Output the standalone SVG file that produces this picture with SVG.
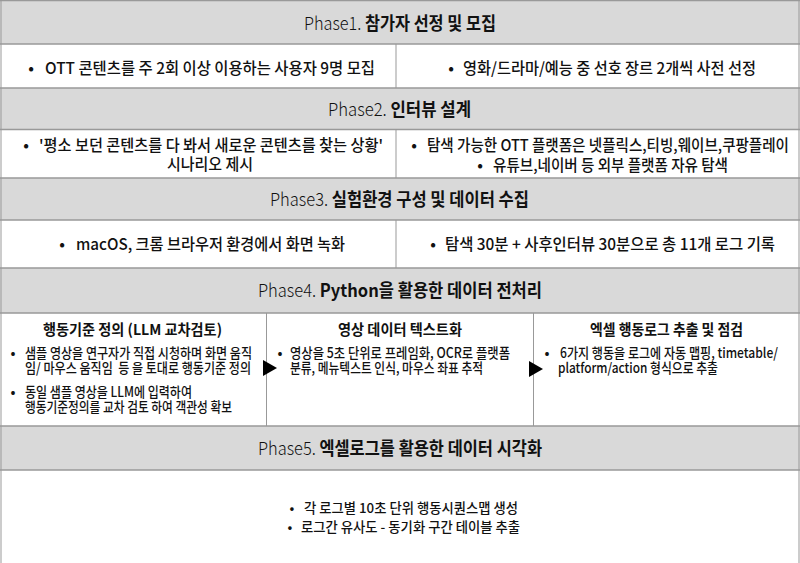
<svg xmlns="http://www.w3.org/2000/svg" width="800" height="563" viewBox="0 0 800 563">
<style>
text{font-family:"Noto Sans CJK KR","Noto Sans",sans-serif;fill:#111;}
.hd{fill:#d9d9d9;}
.cell{fill:#ffffff;}
.rule{stroke:#999;stroke-width:1.3;fill:none;}
.div{stroke:#999;stroke-width:1;fill:none;}
.h{font-size:18px;}
.lt{font-weight:300;}
.b{font-weight:700;}
.t{font-size:16px;font-weight:500;}
.s{font-size:14px;font-weight:500;}
.st{font-size:15px;font-weight:700;}
.v{font-size:13.5px;font-weight:500;}
.arrow{fill:#000;}
</style>
<rect x="0" y="0" width="800" height="563" fill="#fff"/>

<g id="phase1-header">
<rect class="hd" x="0" y="0" width="800" height="44"/>
<text class="h" x="304" y="29.5" textLength="192" lengthAdjust="spacingAndGlyphs"><tspan class="lt">Phase1. </tspan><tspan class="b">참가자 선정 및 모집</tspan></text>
</g>
<g id="phase1-left">
<rect class="cell" x="0" y="44" width="396" height="44"/>
<text class="t" x="31" y="74" text-anchor="middle">•</text>
<text class="t" x="45" y="74" textLength="330" lengthAdjust="spacingAndGlyphs">OTT 콘텐츠를 주 2회 이상 이용하는 사용자 9명 모집</text>
</g>
<g id="phase1-right">
<rect class="cell" x="396" y="44" width="404" height="44"/>
<text class="t" x="451" y="74" text-anchor="middle">•</text>
<text class="t" x="463" y="74" textLength="293" lengthAdjust="spacingAndGlyphs">영화/드라마/예능 중 선호 장르 2개씩 사전 선정</text>
</g>

<g id="phase2-header">
<rect class="hd" x="0" y="88" width="800" height="41"/>
<text class="h" x="328" y="116" textLength="143" lengthAdjust="spacingAndGlyphs"><tspan class="lt">Phase2. </tspan><tspan class="b">인터뷰 설계</tspan></text>
</g>
<g id="phase2-left">
<rect class="cell" x="0" y="129" width="396" height="49"/>
<text class="t" x="26" y="151" text-anchor="middle">•</text>
<text class="t" x="39" y="151" textLength="344" lengthAdjust="spacingAndGlyphs">'평소 보던 콘텐츠를 다 봐서 새로운 콘텐츠를 찾는 상황'</text>
<text class="t" x="167" y="169.5" textLength="86" lengthAdjust="spacingAndGlyphs">시나리오 제시</text>
</g>
<g id="phase2-right">
<rect class="cell" x="396" y="129" width="404" height="49"/>
<text class="t" x="414" y="151" text-anchor="middle">•</text>
<text class="t" x="427" y="151" textLength="362" lengthAdjust="spacingAndGlyphs">탐색 가능한 OTT 플랫폼은 넷플릭스,티빙,웨이브,쿠팡플레이</text>
<text class="t" x="480" y="171" text-anchor="middle">•</text>
<text class="t" x="493" y="171" textLength="235" lengthAdjust="spacingAndGlyphs">유튜브,네이버 등 외부 플랫폼 자유 탐색</text>
</g>

<g id="phase3-header">
<rect class="hd" x="0" y="178" width="800" height="42"/>
<text class="h" x="270" y="206" textLength="259" lengthAdjust="spacingAndGlyphs"><tspan class="lt">Phase3. </tspan><tspan class="b">실험환경 구성 및 데이터 수집</tspan></text>
</g>
<g id="phase3-left">
<rect class="cell" x="0" y="220" width="396" height="48"/>
<text class="t" x="62" y="250" text-anchor="middle">•</text>
<text class="t" x="76" y="250" textLength="269" lengthAdjust="spacingAndGlyphs">macOS, 크롬 브라우저 환경에서 화면 녹화</text>
</g>
<g id="phase3-right">
<rect class="cell" x="396" y="220" width="404" height="48"/>
<text class="t" x="433" y="250" text-anchor="middle">•</text>
<text class="t" x="445" y="250" textLength="330" lengthAdjust="spacingAndGlyphs">탐색 30분 + 사후인터뷰 30분으로 총 11개 로그 기록</text>
</g>

<g id="phase4-header">
<rect class="hd" x="0" y="268" width="800" height="45"/>
<text class="h" x="258" y="297" textLength="284" lengthAdjust="spacingAndGlyphs"><tspan class="lt">Phase4. </tspan><tspan class="b">Python을 활용한 데이터 전처리</tspan></text>
</g>
<g id="phase4-behavior">
<rect class="cell" x="0" y="313" width="266" height="113"/>
<text class="st" x="43" y="335" textLength="179" lengthAdjust="spacingAndGlyphs">행동기준 정의 (LLM 교차검토)</text>
<text class="s" x="13" y="358" text-anchor="middle">•</text>
<text class="s" x="25" y="358" textLength="227" lengthAdjust="spacingAndGlyphs">샘플 영상을 연구자가 직접 시청하며 화면 움직</text>
<text class="s" x="25" y="372.5" textLength="226" lengthAdjust="spacingAndGlyphs" xml:space="preserve">임/ 마우스 움직임  등 을 토대로 행동기준 정의</text>
<text class="s" x="13" y="397" text-anchor="middle">•</text>
<text class="s" x="25" y="397" textLength="167" lengthAdjust="spacingAndGlyphs">동일 샘플 영상을 LLM에 입력하여</text>
<text class="s" x="25" y="411.5" textLength="207" lengthAdjust="spacingAndGlyphs">행동기준정의를 교차 검토 하여 객관성 확보</text>
</g>
<g id="phase4-text">
<rect class="cell" x="266" y="313" width="267" height="113"/>
<text class="st" x="338" y="335" textLength="124" lengthAdjust="spacingAndGlyphs">영상 데이터 텍스트화</text>
<text class="s" x="280" y="358" text-anchor="middle">•</text>
<text class="s" x="290" y="358" textLength="220" lengthAdjust="spacingAndGlyphs">영상을 5초 단위로 프레임화, OCR로 플랫폼</text>
<text class="s" x="290" y="372.5" textLength="193" lengthAdjust="spacingAndGlyphs">분류, 메뉴텍스트 인식, 마우스 좌표 추적</text>
</g>
<g id="phase4-excel">
<rect class="cell" x="533" y="313" width="267" height="113"/>
<text class="st" x="590" y="335" textLength="153" lengthAdjust="spacingAndGlyphs">엑셀 행동로그 추출 및 점검</text>
<text class="s" x="547" y="358" text-anchor="middle">•</text>
<text class="s" x="560" y="358" textLength="218" lengthAdjust="spacingAndGlyphs">6가지 행동을 로그에 자동 맵핑, timetable/</text>
<text class="s" x="558" y="372.5" textLength="160" lengthAdjust="spacingAndGlyphs">platform/action 형식으로 추출</text>
</g>

<g id="phase5-header">
<rect class="hd" x="0" y="426" width="800" height="44"/>
<text class="h" x="258" y="455" textLength="284" lengthAdjust="spacingAndGlyphs"><tspan class="lt">Phase5. </tspan><tspan class="b">엑셀로그를 활용한 데이터 시각화</tspan></text>
</g>
<g id="phase5-body">
<rect class="cell" x="0" y="470" width="800" height="93"/>
<text class="v" x="292" y="513" text-anchor="middle">•</text>
<text class="v" x="304" y="513" textLength="214" lengthAdjust="spacingAndGlyphs">각 로그별 10초 단위 행동시퀀스맵 생성</text>
<text class="v" x="290" y="532" text-anchor="middle">•</text>
<text class="v" x="301" y="532" textLength="219" lengthAdjust="spacingAndGlyphs">로그간 유사도 - 동기화 구간 테이블 추출</text>
</g>

<g id="grid">
<path class="rule" d="M0 0.6H800M0 44H800M0 88H800M0 129.5H800M0 178H800M0 220H800M0 268H800M0 313H800M0 426H800M0 470H800"/>
<path class="div" d="M1 0V563M799 0V563M396 44V88M396 129.5V178M396 220V268M266.5 313V426M533.5 313V426"/>
</g>

<g id="connectors">
<polygon class="arrow" points="263,360 277,368 263,376"/>
<polygon class="arrow" points="529,361 543,369 529,377"/>
</g>
</svg>
